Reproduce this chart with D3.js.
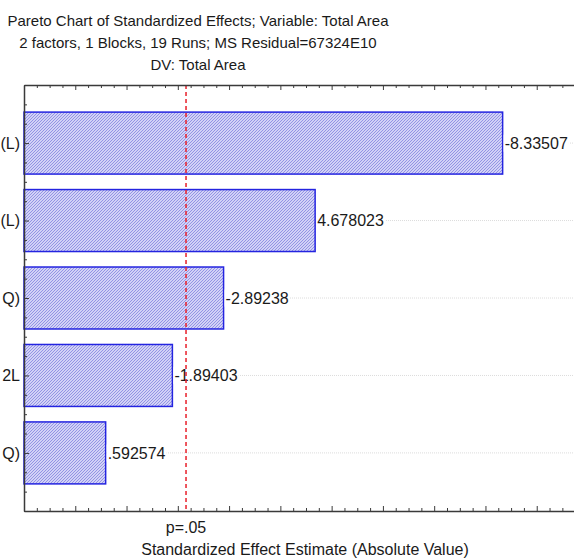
<!DOCTYPE html>
<html>
<head>
<meta charset="utf-8">
<script src="https://cdn.jsdelivr.net/npm/d3@7"></script>
<style>
  html, body { margin: 0; padding: 0; background: #fff; }
  svg { display: block; }
  text { font-family: "Liberation Sans", Arial, sans-serif; fill: #1a1a1a; }
</style>
</head>
<body>
<svg id="chart" width="574" height="560"></svg>
<script>
// Effect names (right-hand ends as shown on the axis) and their standardized estimates
const effects = ["(L)", "(L)", "Q)", "2L", "Q)"];
const estimates = [-8.33507, 4.678023, -2.89238, -1.89403, 0.592574];
const valueLabels = ["-8.33507", "4.678023", "-2.89238", "-1.89403", ".592574"];
const criticalT = 2.16;          // p = .05 threshold
const xDomain = [-1, 10];
const titleLines = [
  "Pareto Chart of Standardized Effects; Variable: Total Area",
  "2 factors, 1 Blocks, 19 Runs; MS Residual=67324E10",
  "DV: Total Area"
];
const xTitle = "Standardized Effect Estimate (Absolute Value)";

const W = 574, H = 560;
const plot = { left: 24, top: 85, bottom: 511, right: 588 };
const svg = d3.select("#chart");

// Hatch fill for the bars
const defs = svg.append("defs");
const pat = defs.append("pattern")
  .attr("id", "hatch").attr("patternUnits", "userSpaceOnUse")
  .attr("width", 3).attr("height", 3);
pat.append("rect").attr("width", 3).attr("height", 3).attr("fill", "#d2d2f6");
pat.append("path").attr("d", "M-1,1 l2,-2 M0,3 l3,-3 M2,4 l2,-2")
  .attr("stroke", "#8c8ce2").attr("stroke-width", 0.9);

const clip = defs.append("clipPath").attr("id", "plotclip");
clip.append("rect").attr("x", 0).attr("y", 0).attr("width", W).attr("height", H);

const x = d3.scaleLinear().domain(xDomain).range([plot.left, plot.right]);
const y = d3.scaleBand().domain(d3.range(effects.length))
  .range([plot.top, plot.bottom]).paddingInner(0.2).paddingOuter(0.35);
const yIdx = d3.scaleLinear()
  .domain([-0.75, effects.length - 0.25]).range([plot.top, plot.bottom]);

const g = svg.append("g").attr("clip-path", "url(#plotclip)");

// Horizontal dotted grid at each effect
g.append("g").selectAll("line").data(effects).join("line")
  .attr("x1", plot.left).attr("x2", plot.right)
  .attr("y1", (d, i) => y(i) + y.bandwidth() / 2)
  .attr("y2", (d, i) => y(i) + y.bandwidth() / 2)
  .attr("stroke", "#dcdcdc").attr("stroke-width", 1)
  .attr("stroke-dasharray", "1,1");

// Bars of absolute effect size
g.append("g").selectAll("rect").data(estimates).join("rect")
  .attr("x", x(xDomain[0]))
  .attr("y", (d, i) => y(i))
  .attr("width", d => x(Math.abs(d)) - x(xDomain[0]))
  .attr("height", y.bandwidth())
  .attr("fill", "url(#hatch)")
  .attr("stroke", "#2424e0").attr("stroke-width", 1.5);

// Value labels with white backing
const labels = g.append("g").selectAll("g").data(estimates).join("g")
  .attr("transform", (d, i) => `translate(${x(Math.abs(d)) + 2},${y(i) + y.bandwidth() / 2})`);
labels.append("text")
  .attr("dy", "0.35em").attr("font-size", 16)
  .text((d, i) => valueLabels[i])
  .each(function () {
    const b = this.getBBox();
    d3.select(this.parentNode).insert("rect", "text")
      .attr("x", b.x - 1).attr("y", b.y).attr("width", b.width + 2).attr("height", b.height)
      .attr("fill", "#fff");
  });

// Critical value line
g.append("line")
  .attr("x1", x(criticalT)).attr("x2", x(criticalT))
  .attr("y1", plot.top).attr("y2", plot.bottom)
  .attr("stroke", "#e8202a").attr("stroke-width", 1.5)
  .attr("stroke-dasharray", "4,3");

// Axes frame with inward ticks
const axisColor = "#3a3a3a";
const minorX = d3.range(xDomain[0], xDomain[1] + 0.001, 0.25);
const isMajor = v => Math.abs(v - Math.round(v)) < 1e-6;

const bottomAxis = d3.axisTop(x).tickValues(minorX).tickFormat("")
  .tickSize(0).tickSizeOuter(0);
const gb = g.append("g").attr("transform", `translate(0,${plot.bottom})`).call(bottomAxis);
gb.select(".domain").attr("stroke", axisColor).attr("stroke-width", 1.5);
gb.selectAll(".tick line").attr("y2", d => isMajor(d) ? -5 : -3).attr("stroke", axisColor);

const topAxis = d3.axisBottom(x).tickValues(minorX).tickFormat("")
  .tickSize(0).tickSizeOuter(0);
const gt = g.append("g").attr("transform", `translate(0,${plot.top})`).call(topAxis);
gt.select(".domain").attr("stroke", axisColor).attr("stroke-width", 1.5);
gt.selectAll(".tick line").attr("y2", d => isMajor(d) ? 5 : 3).attr("stroke", axisColor);

const leftTicks = d3.range(-0.75, effects.length - 0.25 + 0.001, 0.25);
const leftAxis = d3.axisRight(yIdx).tickValues(leftTicks).tickFormat("")
  .tickSize(0).tickSizeOuter(0);
const gl = g.append("g").attr("transform", `translate(${plot.left},0)`).call(leftAxis);
gl.select(".domain").attr("stroke", axisColor).attr("stroke-width", 1.5);
gl.selectAll(".tick line").attr("x2", d => isMajor(d) ? 5 : 3).attr("stroke", axisColor);

// Effect names
svg.append("g").selectAll("text").data(effects).join("text")
  .attr("x", plot.left - 4)
  .attr("y", (d, i) => y(i) + y.bandwidth() / 2)
  .attr("dy", "0.35em").attr("text-anchor", "end").attr("font-size", 16)
  .text(d => d);

// p = .05 label under the threshold
svg.append("text")
  .attr("x", x(criticalT)).attr("y", plot.bottom + 22)
  .attr("text-anchor", "middle").attr("font-size", 16)
  .text("p=.05");

// Axis title
svg.append("text")
  .attr("x", 305).attr("y", 555)
  .attr("text-anchor", "middle").attr("font-size", 16)
  .text(xTitle);

// Chart title
svg.append("g").selectAll("text").data(titleLines).join("text")
  .attr("x", 198).attr("y", (d, i) => 26 + i * 22)
  .attr("text-anchor", "middle").attr("font-size", 15)
  .text(d => d);
</script>
</body>
</html>
